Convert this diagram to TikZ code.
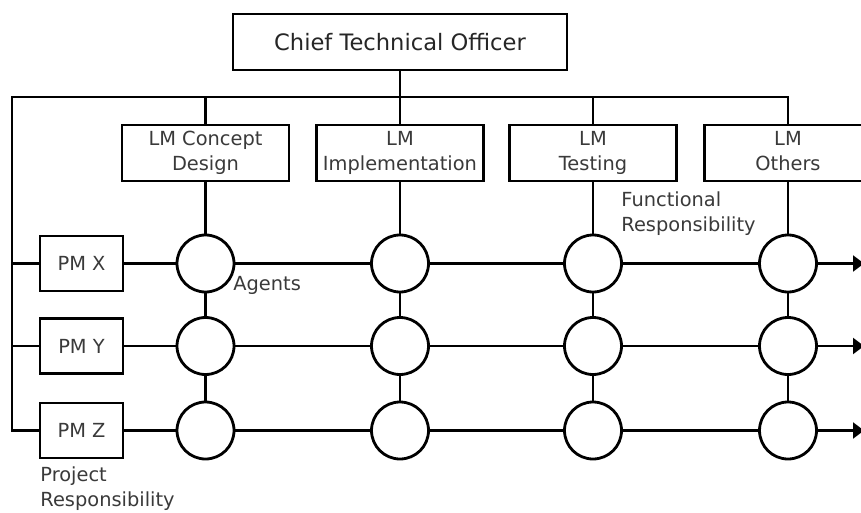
\documentclass[tikz,border=0pt]{standalone}
\usepackage{fontspec}
\setmainfont{DejaVu Sans}
\usetikzlibrary{arrows.meta}
\definecolor{txt}{HTML}{3A3A3A}
\tikzset{
  box/.style={draw=black, line width=1.4pt, fill=white, inner sep=0pt, align=center,
    text=txt, font=\fontsize{9.7}{12.5}\selectfont},
  lmbox/.style={box, minimum width=83.5pt, minimum height=28pt},
  pmbox/.style={box, minimum width=41.5pt, minimum height=27.5pt},
  agent/.style={draw=black, line width=1.4pt, circle, fill=white, minimum size=28.5pt, inner sep=0pt},
  conn/.style={line width=1.3pt, line join=miter},
  row/.style={line width=1.1pt},
  lbl/.style={text=txt, font=\fontsize{9.7}{12.5}\selectfont, align=left, inner sep=0pt, anchor=west},
  tip/.style={-{Triangle[length=5.5pt,width=8pt]}}
}
\begin{document}
\begin{tikzpicture}[x=0.5pt,y=-0.5pt]
\useasboundingbox (0,0) rectangle (861,513);
\node[box, minimum width=167pt, minimum height=28pt, text=black!85,
  font=\fontsize{11.3}{13}\selectfont] (cto) at (400,42) {Chief Technical Officer};
\node[lmbox] (lm1) at (205.5,153) {LM Concept\\Design};
\node[lmbox] (lm2) at (400,153) {LM\\Implementation};
\node[lmbox] (lm3) at (593,153) {LM\\Testing};
\node[lmbox] (lm4) at (788,153) {LM\\Others\vphantom{g}};
\node[pmbox] (pmx) at (81.5,263.5) {PM X};
\node[pmbox] (pmy) at (81.5,346) {PM Y};
\node[pmbox] (pmz) at (81.5,430.5) {PM Z};
\foreach \c/\x in {1/205.5,2/400,3/593,4/788}{
  \node[agent] (a\c x) at (\x,263.5) {};
  \node[agent] (a\c y) at (\x,346) {};
  \node[agent] (a\c z) at (\x,430.5) {};
}
\coordinate (busl) at (12,97);
\coordinate (busr) at (788,97);
\coordinate (endx) at (864,263.5);
\coordinate (endy) at (864,346);
\coordinate (endz) at (864,430.5);
% bus
\draw[conn] (pmz.west) -- (pmz.west -| busl) -- (busl) -- (busr) -- (lm4.north);
\draw[conn] (cto.south) -- (lm2.north);
\draw[conn] (lm1.north |- busl) -- (lm1.north);
\draw[conn] (lm3.north |- busl) -- (lm3.north);
\draw[conn] (pmx.west -| busl) -- (pmx.west);
\draw[conn] (pmy.west -| busl) -- (pmy.west);
% columns
\foreach \c in {1,2,3,4}{
  \draw[conn] (lm\c.south) -- (a\c x.north);
  \draw[conn] (a\c x.south) -- (a\c y.north);
  \draw[conn] (a\c y.south) -- (a\c z.north);
}
% rows
\foreach \r in {x,y,z}{
  \draw[row] (pm\r.east) -- (a1\r.west);
  \draw[row] (a1\r.east) -- (a2\r.west);
  \draw[row] (a2\r.east) -- (a3\r.west);
  \draw[row] (a3\r.east) -- (a4\r.west);
  \draw[row,tip] (a4\r.east) -- (end\r);
}
\node[lbl] (agents) at (233,285) {Agents};
\node[lbl] (func) at (621,213.5) {Functional\\Responsibility};
\node[lbl] (proj) at (40,489) {Project\\Responsibility};
\end{tikzpicture}
\end{document}
